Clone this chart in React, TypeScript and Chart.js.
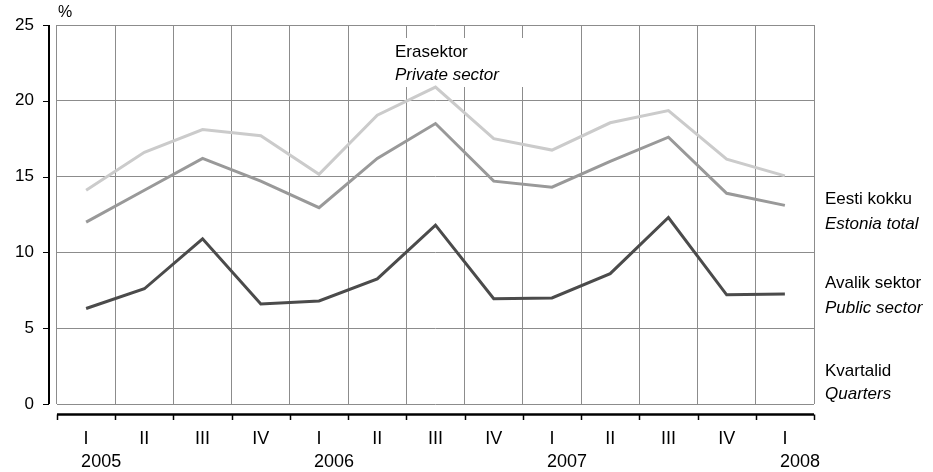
import React, { useEffect, useRef } from "react";
import { Chart, registerables } from "chart.js";

Chart.register(...registerables);

const quarters = ["I", "II", "III", "IV", "I", "II", "III", "IV", "I", "II", "III", "IV", "I"];
const years = ["2005", "", "", "", "2006", "", "", "", "2007", "", "", "", "2008"];
const privateSector = [14.1, 16.6, 18.1, 17.7, 15.15, 19.05, 20.9, 17.5, 16.75, 18.55, 19.35, 16.15, 15.05];
const estoniaTotal = [12.0, 14.1, 16.2, 14.7, 12.95, 16.2, 18.5, 14.7, 14.3, 16.0, 17.6, 13.9, 13.1];
const publicSector = [6.3, 7.6, 10.9, 6.6, 6.8, 8.25, 11.8, 6.95, 7.0, 8.6, 12.3, 7.2, 7.25];
const yTicks = [0, 5, 10, 15, 20, 25];

const FONT = "'Liberation Sans', Arial, Helvetica, sans-serif";

const annotations = {
  id: "annotations",
  beforeDatasetsDraw(chart: any) {
    const ctx = chart.ctx;
    ctx.save();
    ctx.fillStyle = "#ffffff";
    ctx.fillRect(390, 38, 135, 49);
    ctx.restore();
  },
  afterDraw(chart: any) {
    const ctx = chart.ctx;
    const area = chart.chartArea;
    const xs = chart.scales.x;
    const ys = chart.scales.y;
    ctx.save();
    ctx.strokeStyle = "#000000";
    // y axis line
    const ax = area.left - 8;
    ctx.lineWidth = 2;
    ctx.beginPath();
    ctx.moveTo(ax, area.top);
    ctx.lineTo(ax, area.bottom);
    ctx.stroke();
    ctx.lineWidth = 1;
    for (const v of yTicks) {
      const py = Math.round(ys.getPixelForValue(v)) + 0.5;
      ctx.beginPath();
      ctx.moveTo(ax - 6, py);
      ctx.lineTo(ax, py);
      ctx.stroke();
    }
    // x axis line
    const ay = area.bottom + 10.5;
    ctx.lineWidth = 2.5;
    ctx.beginPath();
    ctx.moveTo(area.left, ay);
    ctx.lineTo(area.right, ay);
    ctx.stroke();
    ctx.lineWidth = 1.5;
    const n = quarters.length;
    for (let i = 0; i <= n; i++) {
      const px = Math.round(area.left + (i * (area.right - area.left)) / n) + 0.5;
      ctx.beginPath();
      ctx.moveTo(px, ay);
      ctx.lineTo(px, ay + 5.5);
      ctx.stroke();
    }
    // years
    ctx.fillStyle = "#000000";
    ctx.font = `18px ${FONT}`;
    ctx.textAlign = "left";
    ctx.textBaseline = "alphabetic";
    years.forEach((y, i) => {
      if (!y) return;
      ctx.fillText(y, xs.getPixelForValue(i) - 5, 467);
    });
    // unit
    ctx.font = `16px ${FONT}`;
    ctx.fillText("%", 58, 17);
    // series labels
    const label = (a: string, b: string, x: number, y1: number, y2: number) => {
      ctx.font = `17px ${FONT}`;
      ctx.fillText(a, x, y1);
      ctx.font = `italic 17px ${FONT}`;
      ctx.fillText(b, x, y2);
    };
    label("Erasektor", "Private sector", 395, 57, 80);
    label("Eesti kokku", "Estonia total", 825, 204, 229);
    label("Avalik sektor", "Public sector", 825, 288, 313);
    label("Kvartalid", "Quarters", 825, 376, 399);
    ctx.restore();
  },
};

export default function App() {
  const ref = useRef<HTMLCanvasElement>(null);
  useEffect(() => {
    if (!ref.current) return;
    const chart = new Chart(ref.current, {
      type: "line",
      data: {
        labels: quarters,
        datasets: [
          { label: "Private sector", data: privateSector, borderColor: "#cbcbcb", borderWidth: 3, pointRadius: 0, tension: 0 },
          { label: "Estonia total", data: estoniaTotal, borderColor: "#999999", borderWidth: 3, pointRadius: 0, tension: 0 },
          { label: "Public sector", data: publicSector, borderColor: "#4b4b4b", borderWidth: 3, pointRadius: 0, tension: 0 },
        ],
      },
      options: {
        animation: false,
        responsive: false,
        maintainAspectRatio: false,
        layout: { padding: { top: 25, right: 119, left: 0, bottom: 0 } },
        plugins: { legend: { display: false }, tooltip: { enabled: false } },
        scales: {
          x: {
            offset: true,
            grid: { offset: true, color: "#8c8c8c", lineWidth: 1, drawTicks: false },
            border: { display: false },
            ticks: { color: "#000", font: { family: FONT, size: 18 }, padding: 24, maxRotation: 0, autoSkip: false },
            afterFit: (s: any) => { s.height = 68; s.paddingLeft = 0; s.paddingRight = 0; },
          },
          y: {
            min: 0,
            max: 25,
            grid: { color: "#8c8c8c", lineWidth: 1, drawTicks: false },
            border: { display: false },
            ticks: { stepSize: 5, color: "#000", font: { family: FONT, size: 17 }, padding: 23 },
            afterFit: (s: any) => { s.width = 57; s.paddingTop = 10; s.paddingBottom = 10; },
          },
        },
      },
      plugins: [annotations],
    });
    return () => chart.destroy();
  }, []);
  return (
    <div style={{ position: "fixed", left: 0, top: 0, width: 933, height: 472, background: "#fff" }}>
      <canvas ref={ref} width={933} height={472} style={{ width: 933, height: 472 }} />
    </div>
  );
}
